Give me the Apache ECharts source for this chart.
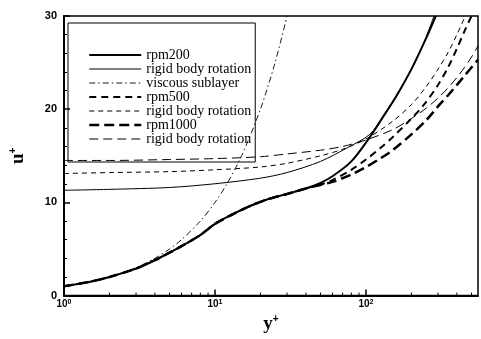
<!DOCTYPE html>
<html>
<head>
<meta charset="utf-8">
<script src="https://cdn.jsdelivr.net/npm/echarts@6/dist/echarts.min.js"></script>
<style>
  html, body { margin: 0; padding: 0; background: #fff; }
  #chart { width: 481px; height: 339px; }
</style>
</head>
<body>
<div id="chart"></div>
<script>
// Mean velocity profiles u+ versus y+ (logarithmic wall distance)
const yPlusWall = [1, 1.5, 2, 3, 4, 5, 6, 8, 10, 13, 17, 22, 30, 40];
const uWall     = [1.0, 1.5, 2.0, 2.9, 3.8, 4.6, 5.3, 6.5, 7.7, 8.7, 9.6, 10.3, 10.9, 11.5];

const yPlus200 = [50, 60, 80, 106, 130, 160, 200, 250, 290];
const u200     = [12.1, 12.8, 14.4, 17.0, 19.2, 21.5, 24.3, 27.6, 30.0];

const yPlusRigid200 = [1, 2, 5, 10, 20, 30, 50, 76, 106, 130, 160, 200, 240, 282];
const uRigid200     = [11.3, 11.4, 11.6, 12.0, 12.6, 13.2, 14.4, 15.9, 17.3, 19.2, 21.4, 24.3, 27.0, 30.0];

const yPlusViscous = [1, 1.5, 2, 3, 4, 5, 6, 8, 10, 12, 15, 20, 25, 30];
const uViscous     = [1, 1.5, 2, 3, 4, 5, 6, 8, 10, 12, 15, 20, 25, 30];

const yPlus500 = [50, 60, 80, 100, 124, 150, 200, 240, 300, 350, 400, 450, 500];
const u500     = [11.9, 12.4, 13.5, 14.6, 15.8, 17.0, 19.0, 20.4, 22.6, 24.5, 26.5, 28.4, 30.0];

const yPlusRigid500 = [1, 2, 5, 10, 20, 30, 50, 70, 100, 150, 200, 250, 300, 350, 400, 455];
const uRigid500     = [13.1, 13.2, 13.3, 13.5, 13.8, 14.2, 15.0, 15.7, 16.8, 18.7, 20.5, 22.4, 24.3, 26.1, 28.0, 30.0];

const yPlus1000 = [60, 80, 100, 124, 150, 200, 250, 300, 350, 400, 450, 552];
const u1000     = [12.2, 13.0, 13.8, 14.7, 15.6, 17.3, 18.8, 20.3, 21.5, 22.6, 23.6, 25.3];

const yPlusRigid1000 = [1, 2, 5, 10, 20, 30, 50, 70, 100, 150, 200, 250, 300, 350, 400, 450, 500, 552];
const uRigid1000     = [14.5, 14.5, 14.6, 14.7, 14.9, 15.2, 15.6, 16.0, 16.7, 17.8, 19.0, 20.1, 21.2, 22.3, 23.4, 24.5, 25.6, 26.8];

// axis range in y+ and minor ticks (2..9 in every decade)
const yPlusMin = 1;
const yPlusMax = 552;
const xMinorTicks = [2, 3, 4, 5, 6, 7, 8, 9, 20, 30, 40, 50, 60, 70, 80, 90, 200, 300, 400, 500];

// legend entries and the line width shown beside each one
const legendNames  = ['rpm200', 'rigid body rotation', 'viscous sublayer', 'rpm500',
                      'rigid body rotation ', 'rpm1000', 'rigid body rotation  '];
const legendWidths = [2, 1, 0.9, 2, 1, 2.5, 1];

// the horizontal axis works in decades: each y+ is placed at log10(y+)
function pairs(xs, ys) { return xs.map((x, i) => [Math.log10(x), ys[i]]); }

const chart = echarts.init(document.getElementById('chart'), null, { renderer: 'canvas' });

function lineSeries(name, data, width, type) {
  return {
    name: name,
    type: 'line',
    data: data,
    showSymbol: false,
    symbol: 'none',
    smooth: 0.3,
    clip: true,
    lineStyle: { color: '#000', width: width, type: type },
    itemStyle: { color: '#000' },
    silent: true
  };
}

const supRich = {
  m: { fontFamily: 'Liberation Sans', fontWeight: 'bold', fontSize: 10, color: '#000' },
  e: { fontFamily: 'Liberation Sans', fontWeight: 'bold', fontSize: 7, color: '#000', verticalAlign: 'top', padding: [0, 0, 5, 0] }
};

const option = {
  backgroundColor: '#fff',
  animation: false,
  grid: {
    left: 64, right: 3, top: 16, bottom: 33,
    show: true, borderColor: '#000', borderWidth: 1.5, backgroundColor: 'transparent'
  },
  legend: {
    data: legendNames.map((n, i) => ({ name: n, lineStyle: { width: legendWidths[i] } })),
    orient: 'vertical',
    left: 68, top: 23,
    padding: [25, 4, 16, 20],
    itemWidth: 52, itemHeight: 14, itemGap: 0,
    borderColor: '#000', borderWidth: 1,
    selectedMode: false,
    formatter: n => n.trim(),
    itemStyle: { color: 'rgba(0,0,0,0)', borderColor: 'rgba(0,0,0,0)', borderWidth: 0 },
    textStyle: { fontFamily: 'Liberation Serif', fontSize: 14, color: '#000' }
  },
  xAxis: {
    type: 'value', min: Math.log10(yPlusMin), max: Math.log10(yPlusMax), interval: 1,
    name: '{a|y}{b|+}', nameLocation: 'middle', nameGap: 17,
    nameTextStyle: {
      rich: {
        a: { fontFamily: 'Liberation Serif', fontWeight: 'bold', fontSize: 19, color: '#000' },
        b: { fontFamily: 'Liberation Sans', fontWeight: 'bold', fontSize: 10, color: '#000', verticalAlign: 'top', padding: [0, 0, 10, 0] }
      }
    },
    axisLine: { lineStyle: { color: '#000', width: 2 } },
    axisTick: { inside: true, length: 6, lineStyle: { color: '#000', width: 1.5 } },
    splitLine: { show: false },
    axisLabel: {
      margin: 3,
      showMaxLabel: false,
      formatter: v => (Math.abs(v - Math.round(v)) < 1e-6 ? '{m|10}{e|' + Math.round(v) + '}' : ''),
      rich: supRich
    }
  },
  yAxis: {
    type: 'value', min: 0, max: 30, interval: 10,
    name: '{a|u}{b|+}', nameLocation: 'middle', nameGap: 36, nameRotate: 90,
    nameTextStyle: {
      rich: {
        a: { fontFamily: 'Liberation Serif', fontWeight: 'bold', fontSize: 19, color: '#000' },
        b: { fontFamily: 'Liberation Sans', fontWeight: 'bold', fontSize: 10, color: '#000', verticalAlign: 'top', padding: [0, 0, 10, 0] }
      }
    },
    axisLine: { show: true, lineStyle: { color: '#000', width: 2 } },
    axisTick: { inside: true, length: 6, lineStyle: { color: '#000', width: 1.5 } },
    minorTick: { show: true, splitNumber: 5, length: 3, lineStyle: { color: '#000', width: 1 } },
    splitLine: { show: false },
    axisLabel: { margin: 7, fontFamily: 'Liberation Sans', fontWeight: 'bold', fontSize: 11, color: '#000' }
  },
  series: [
    lineSeries('rpm200', pairs(yPlusWall, uWall).concat(pairs(yPlus200, u200)), 2, 'solid'),
    lineSeries('rigid body rotation', pairs(yPlusRigid200, uRigid200), 1, 'solid'),
    lineSeries('viscous sublayer', pairs(yPlusViscous, uViscous), 0.9, [6, 3, 1.5, 3]),
    lineSeries('rpm500', pairs(yPlusWall, uWall).concat(pairs(yPlus500, u500)), 2, [7, 5]),
    lineSeries('rigid body rotation ', pairs(yPlusRigid500, uRigid500), 1, [5, 4]),
    lineSeries('rpm1000', pairs(yPlusWall, uWall).concat(pairs(yPlus1000, u1000)), 2.5, [10, 5]),
    lineSeries('rigid body rotation  ', pairs(yPlusRigid1000, uRigid1000), 1, [9, 5]),
    {
      type: 'custom',
      silent: true,
      data: xMinorTicks.map(v => [Math.log10(v), 0]),
      renderItem: function (params, api) {
        const p = api.coord([api.value(0), api.value(1)]);
        return {
          type: 'line',
          shape: { x1: p[0], y1: p[1], x2: p[0], y2: p[1] - 3 },
          style: { stroke: '#000', lineWidth: 1 }
        };
      }
    }
  ]
};

chart.setOption(option);
</script>
</body>
</html>
